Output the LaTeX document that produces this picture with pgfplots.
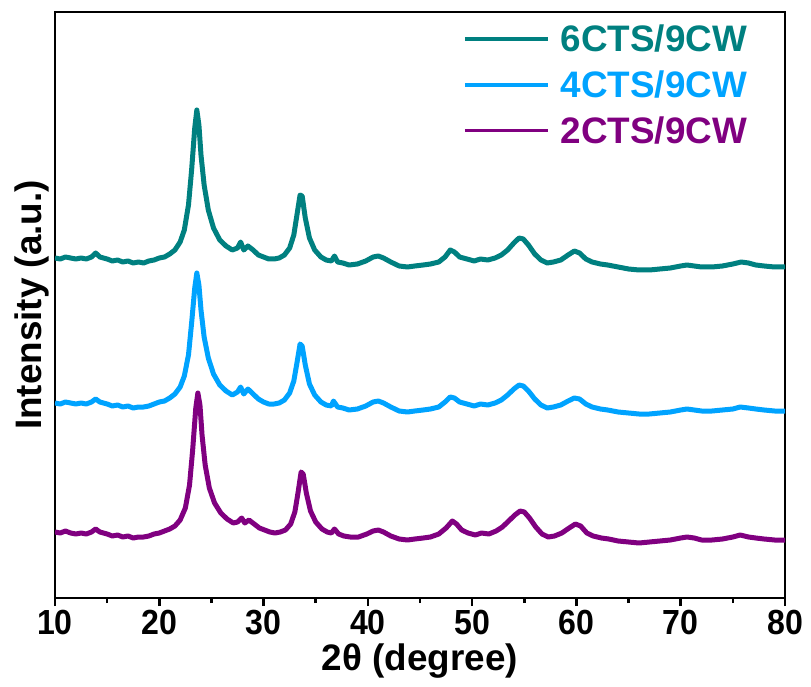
\documentclass[border=0pt]{standalone}
\usepackage{fontspec}
\setmainfont{Liberation Sans}
\newfontfamily\tickfont[FakeStretch=0.92]{Liberation Sans}
\usepackage{pgfplots}
\pgfplotsset{compat=1.18}
\usetikzlibrary{calc}

\definecolor{cteal}{RGB}{0,128,128}
\definecolor{cblue}{RGB}{0,163,255}
\definecolor{cpurp}{RGB}{128,0,128}

% XRD patterns, stacked with vertical offsets (arbitrary intensity units)
\pgfplotstableread{
x y
10.0 340
10.5 339
11.0 341
11.5 340
12.0 339
12.5 340
13.0 339
13.5 341
13.9 345
14.3 341
15.0 339
15.5 337
16.0 338
16.5 336
17.0 337
17.5 335
18.0 336
18.5 335
19.0 337
19.5 338
20.0 340
20.5 341
21.0 344
21.5 348
22.0 356
22.4 368
22.8 393
23.1 428
23.4 470
23.6 488
23.8 473
24.0 443
24.3 413
24.7 388
25.2 370
25.8 358
26.4 352
27.0 348
27.5 350
27.8 356
28.1 348
28.5 352
29.0 348
29.5 343
30.0 341
30.5 339
31.0 339
31.5 340
32.0 343
32.5 350
32.9 363
33.2 383
33.5 403
33.7 402
34.0 380
34.4 360
34.9 348
35.5 341
36.0 338
36.5 337
36.8 342
37.1 336
37.6 335
38.2 333
39.0 334
39.8 337
40.5 341
41.0 342
41.5 340
42.2 336
43.0 332
43.8 331
44.5 332
45.3 333
46.0 334
46.8 336
47.4 341
47.9 348
48.3 346
48.8 341
49.5 339
50.2 337
50.8 339
51.5 338
52.2 340
52.8 343
53.4 348
54.0 355
54.5 360
54.9 359
55.4 353
56.0 344
56.6 338
57.2 335
57.8 336
58.5 338
59.2 343
59.8 347
60.3 345
60.9 339
61.5 336
62.3 334
63.0 333
64.0 331
65.0 329
66.0 328
67.0 328
68.0 329
69.0 330
70.0 332
70.6 333
71.3 332
72.0 331
73.0 331
74.0 332
75.0 334
75.8 336
76.5 335
77.2 333
78.0 332
79.0 331
80.0 331
}\sixcts

\pgfplotstableread{
x y
10.0 195
10.5 194
11.0 196
11.5 195
12.0 194
12.5 195
13.0 194
13.5 196
13.9 199
14.3 196
15.0 194
15.5 192
16.0 193
16.5 191
17.0 192
17.5 190
18.0 191
18.5 191
19.0 192
19.5 194
20.0 196
20.5 197
21.0 200
21.5 204
22.0 211
22.4 222
22.8 243
23.1 275
23.4 310
23.6 325
23.8 313
24.0 288
24.3 261
24.7 240
25.2 224
25.8 213
26.4 207
27.0 203
27.5 206
27.8 211
28.1 204
28.5 209
29.0 204
29.5 199
30.0 196
30.5 194
31.0 194
31.5 195
32.0 198
32.5 205
32.9 217
33.2 235
33.5 254
33.7 252
34.0 233
34.4 214
34.9 203
35.5 196
36.0 193
36.5 192
36.7 197
37.1 191
37.6 190
38.2 188
39.0 189
39.8 192
40.5 196
41.0 197
41.5 195
42.2 191
43.0 187
43.8 186
44.5 187
45.3 188
46.0 189
46.8 191
47.4 196
47.9 201
48.3 200
48.8 196
49.5 194
50.2 192
50.8 194
51.5 193
52.2 195
52.8 198
53.4 203
54.0 209
54.5 213
54.9 212
55.4 207
56.0 199
56.6 193
57.2 190
57.8 191
58.5 193
59.2 197
59.8 200
60.3 199
60.9 194
61.5 191
62.3 189
63.0 188
64.0 186
65.0 185
66.0 184
67.0 184
68.0 185
69.0 186
70.0 188
70.6 189
71.3 188
72.0 187
73.0 187
74.0 188
75.0 189
75.7 191
76.5 190
77.2 189
78.0 188
79.0 187
80.0 187
}\fourcts

\pgfplotstableread{
x y
10.0 66
10.5 65
11.0 67
11.5 65
12.0 64
12.5 65
13.0 64
13.5 66
13.9 69
14.3 66
15.0 64
15.5 62
16.0 63
16.5 61
17.0 62
17.5 60
18.0 61
18.5 61
19.0 62
19.5 64
20.0 65
20.5 67
21.0 69
21.5 72
22.0 78
22.5 90
22.9 113
23.2 148
23.5 190
23.7 205
23.9 193
24.1 163
24.4 133
24.8 110
25.3 95
25.9 85
26.5 79
27.1 75
27.5 76
27.9 80
28.2 75
28.6 78
29.1 74
29.6 70
30.1 68
30.6 66
31.1 65
31.6 66
32.1 68
32.6 74
33.0 86
33.3 105
33.6 126
33.8 124
34.1 105
34.5 87
35.0 76
35.6 69
36.1 66
36.5 65
36.8 69
37.2 64
37.7 62
38.3 61
39.1 61
39.9 64
40.5 67
41.0 68
41.5 66
42.2 62
43.0 59
43.8 58
44.5 59
45.3 60
46.0 61
46.8 64
47.5 70
48.1 77
48.5 74
49.0 68
49.6 65
50.3 63
50.9 65
51.6 64
52.3 67
52.9 71
53.5 77
54.1 83
54.6 87
55.0 86
55.5 80
56.1 71
56.7 64
57.3 61
57.9 62
58.6 65
59.3 70
59.9 74
60.4 72
61.0 65
61.6 62
62.4 60
63.1 59
64.0 57
65.0 56
66.0 55
67.0 56
68.0 57
69.0 58
70.0 60
70.6 61
71.3 60
72.0 58
73.0 58
74.0 59
75.0 61
75.7 63
76.5 61
77.2 60
78.0 59
79.0 58
80.0 58
}\twocts

\begin{document}
\begin{tikzpicture}
\begin{axis}[
  name=ax,
  scale only axis,
  width=730bp, height=586bp,
  xmin=10, xmax=80, ymin=0, ymax=586,
  xtick={10,20,...,80},
  minor x tick num=1,
  ytick=\empty,
  xtick pos=bottom,
  tick align=outside,
  major tick length=8bp,
  minor tick length=5bp,
  axis line style={line width=2.6bp},
  every tick/.style={black, line width=2.6bp},
  /pgf/number format/assume math mode=true,
  ticklabel style={font=\tickfont\fontsize{35}{40}\selectfont\bfseries},
  xticklabel style={yshift=-1bp},
  label style={font=\fontsize{37}{42}\selectfont\bfseries},
  xlabel={2θ (degree)},
  ylabel={Intensity (a.u.)},
  xlabel style={yshift=-2bp},
  ylabel style={yshift=-6bp},
  legend style={at={(rel axis cs:0.955,0.985)}, anchor=north east,
    draw=none, fill=none, row sep=13.5bp,
    /tikz/every odd column/.append style={column sep=9bp},
    font=\fontsize{37}{40}\selectfont\bfseries},
  legend cell align=left,
  legend image code/.code={\draw[#1, line width=3.5bp] (0bp,0bp) -- (83bp,0bp);},
  every axis plot/.append style={line width=5bp, line join=round},
]
\addplot[cteal] table[x=x, y=y] {\sixcts};
\addlegendentry{\textcolor{cteal}{6CTS/9CW}}
\addplot[cblue] table[x=x, y=y] {\fourcts};
\addlegendentry{\textcolor{cblue}{4CTS/9CW}}
\addplot[cpurp] table[x=x, y=y] {\twocts};
\addlegendentry{\textcolor{cpurp}{2CTS/9CW}}
\end{axis}
\pgfresetboundingbox
\path[use as bounding box] ($(ax.south west)+(-55bp,-88bp)$) rectangle ($(ax.north east)+(26bp,12bp)$);
\end{tikzpicture}
\end{document}
